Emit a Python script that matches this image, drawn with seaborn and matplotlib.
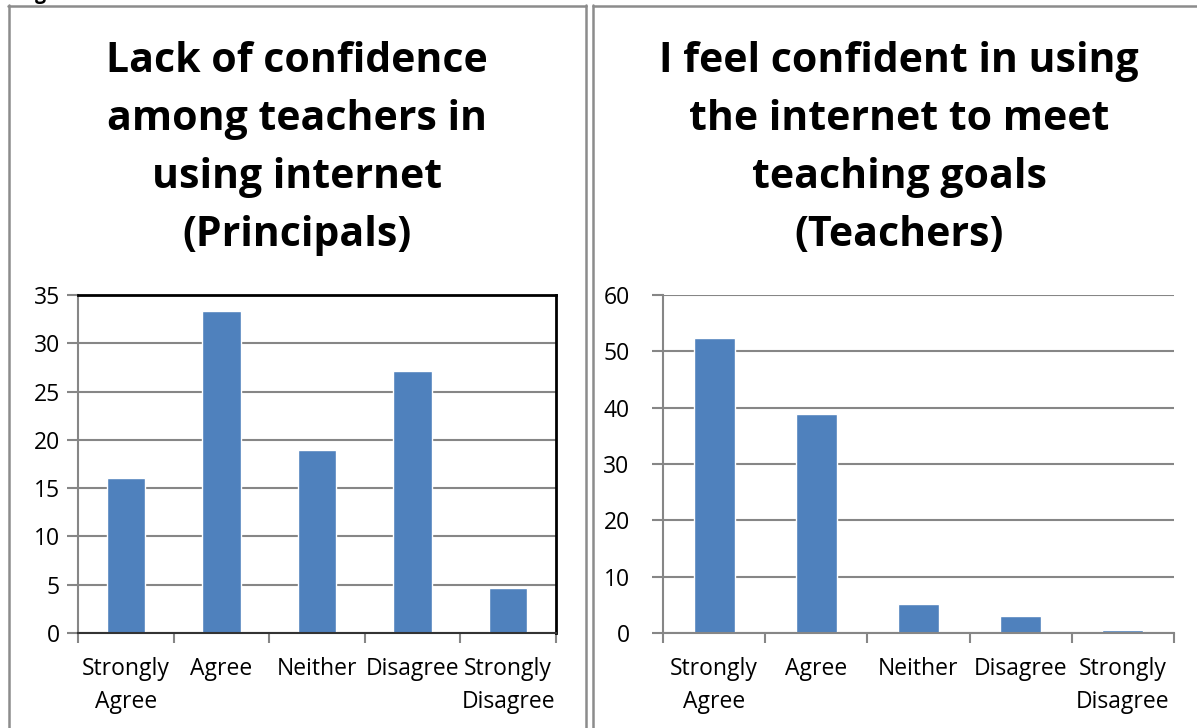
import matplotlib
matplotlib.use("Agg")
import matplotlib.pyplot as plt
import seaborn as sns
import pandas as pd
from matplotlib.lines import Line2D

# data
categories = ["Strongly\nAgree", "Agree", "Neither", "Disagree", "Strongly\nDisagree"]
principals = [16.0, 33.3, 18.9, 27.1, 4.7]
teachers = [52.4, 38.9, 5.2, 3.1, 0.6]

left_title = "Lack of confidence\namong teachers in\nusing internet\n(Principals)"
right_title = "I feel confident in using\nthe internet to meet\nteaching goals\n(Teachers)"

sns.set_theme(style="white")
plt.rcParams['font.family'] = ['Open Sans', 'DejaVu Sans']
plt.rcParams['text.color'] = 'black'
plt.rcParams['xtick.color'] = 'black'
plt.rcParams['ytick.color'] = 'black'

W, H = 1197, 728
fig = plt.figure(figsize=(W / 100, H / 100), dpi=100)

def px(x0, y0, x1, y1):
    # pixel box -> figure fraction
    return [x0 / W, 1 - y1 / H, (x1 - x0) / W, (y1 - y0) / H]

bar_col = "#4F81BD"
grid_col = "#868686"

def draw(ax, vals, ymax, step, framed, ypad):
    df = pd.DataFrame({"cat": categories, "val": vals})
    sns.barplot(data=df, x="cat", y="val", color=bar_col, width=0.4,
                saturation=1, ax=ax)
    ax.set_xlim(-0.5, len(categories) - 0.5)
    ax.set_ylim(0, ymax)
    ax.set_yticks(range(0, ymax + 1, step))
    ax.yaxis.grid(True, color=grid_col, lw=1.5)
    ax.set_axisbelow(True)
    ax.set_xlabel("")
    ax.set_ylabel("")
    ax.set_xticks([i - 0.5 for i in range(len(categories) + 1)], minor=True)
    ax.tick_params(axis="x", which="major", length=0, pad=17, labelsize=16.5,
                   labelcolor="black")
    ax.tick_params(axis="x", which="minor", length=7, width=1.5,
                   color=grid_col, bottom=True)
    ax.tick_params(axis="y", length=8, width=1.5, color=grid_col, pad=ypad,
                   labelsize=16.5, left=True, labelcolor="black")
    for lbl in ax.get_xticklabels():
        lbl.set_linespacing(1.5)
        lbl.set_va("top")
    ax.spines["left"].set_color(grid_col)
    ax.spines["left"].set_linewidth(1.5)
    ax.spines["bottom"].set_color(grid_col)
    ax.spines["bottom"].set_linewidth(1.5)
    if framed:
        for s in ["top", "right"]:
            ax.spines[s].set_color("black")
            ax.spines[s].set_linewidth(2)
        ax.spines["bottom"].set_color("#333333")
    else:
        ax.spines["top"].set_visible(False)
        ax.spines["right"].set_visible(False)

ax1 = fig.add_axes(px(78, 295, 556, 633))
draw(ax1, principals, 35, 5, True, 5)

ax2 = fig.add_axes(px(663, 295, 1174, 633))
draw(ax2, teachers, 60, 10, False, 16)

# titles, one line at a time so the line pitch matches
tkw = dict(ha="center", va="center", fontsize=29.5, fontweight="bold",
           color="black", family=['Open Sans', 'DejaVu Sans'])
for i, line in enumerate(left_title.split("\n")):
    fig.text(297 / W, 1 - (61 + 58.3 * i) / H, line, **tkw)
for i, line in enumerate(right_title.split("\n")):
    fig.text(899 / W, 1 - (61 + 58.3 * i) / H, line, **tkw)

# table cell borders
border = "#8c8c8c"
def hline(x0, x1, y):
    fig.add_artist(Line2D([x0 / W, x1 / W], [1 - y / H, 1 - y / H],
                          color=border, lw=1.8))
def vline(x, y0, y1):
    fig.add_artist(Line2D([x / W, x / W], [1 - y0 / H, 1 - y1 / H],
                          color=border, lw=1.8))

hline(8, 586, 5.5)
hline(593, W + 5, 5.5)
vline(8.5, 5, H + 5)
vline(586, 5, H + 5)
vline(593, 5, H + 5)

# cut-off caption above the table (only the descender shows)
fig.text(40 / W, 1 + 1 / H, "g", fontsize=14, fontweight="bold",
         ha="center", va="baseline")

fig.savefig("out.png", dpi=100)
